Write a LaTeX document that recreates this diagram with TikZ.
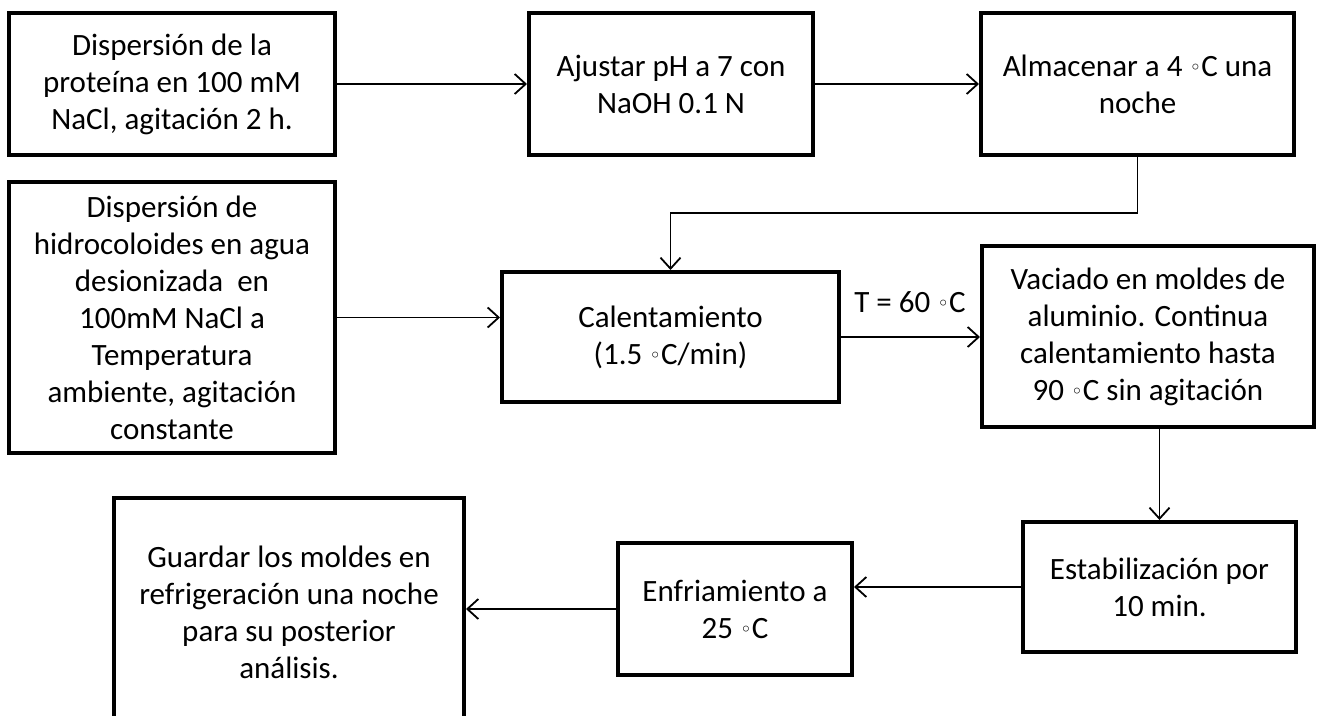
\documentclass[tikz,border=0pt]{standalone}
\usepackage{fontspec}
\setmainfont{Carlito}
\newfontfamily\dvsym{DejaVu Sans}
\newcommand{\degsym}{\raisebox{1.5pt}{\dvsym\fontsize{20}{20}\selectfont ◦}}
\usetikzlibrary{arrows.meta}
\tikzset{
  box/.style={draw=black, line width=4pt, fill=white, align=center, inner sep=0pt,
    font=\fontsize{31}{37}\selectfont},
  conn/.style={line width=1.8pt, -{Straight Barb[length=11pt,width=20pt]}},
  lbl/.style={font=\fontsize{31}{37}\selectfont, inner sep=0pt}
}
\begin{document}
\begin{tikzpicture}[x=1pt,y=-1pt]
\clip (0,0) rectangle (1324,715);
\fill[white] (0,0) rectangle (1324,715);
\node[box, minimum width=326pt, minimum height=142pt] (b1) at (172,84)
  {Dispersión de la\\proteína en 100 mM\\NaCl, agitación 2 h.};
\node[box, minimum width=284pt, minimum height=142pt] (b2) at (671,84)
  {Ajustar pH a 7 con\\NaOH 0.1 N};
\node[box, minimum width=313pt, minimum height=142pt] (b3) at (1137.5,84)
  {Almacenar a 4 \degsym C una\\noche};
\node[box, minimum width=326pt, minimum height=271pt] (b4) at (172,317.5)
  {Dispersión de\\hidrocoloides en agua\\desionizada \ en\\100mM NaCl a\\Temperatura\\ambiente, agitación\\constante};
\node[box, minimum width=337pt, minimum height=130pt] (b5) at (670.5,337)
  {Calentamiento\\(1.5 \degsym C/min)};
\node[box, minimum width=332pt, minimum height=181pt] (b6) at (1148,336.5)
  {Vaciado en moldes de\\aluminio. Continua\\calentamiento hasta\\90 \degsym C sin agitación};
\node[box, minimum width=273pt, minimum height=130pt] (b7) at (1159.5,587)
  {Estabilización por\\10 min.};
\node[box, minimum width=234pt, minimum height=132pt] (b8) at (735,609)
  {Enfriamiento a\\25 \degsym C};
\node[box, minimum width=350pt, minimum height=228pt] (b9) at (289,612)
  {Guardar los moldes en\\refrigeración una noche\\para su posterior\\análisis.};
\node[lbl] (t60) at (910,302) {T = 60 \degsym C};
\coordinate (k) at (670.5,213);
\draw[conn] (b1.east) -- (b2.west);
\draw[conn] (b2.east) -- (b3.west);
\draw[conn] (b3.south) |- (k) -- (b5.north);
\draw[conn] (b4.east) -- (b4.east -| b5.west);
\draw[conn] (b5.east) -- (b5.east -| b6.west);
\draw[conn] (b7.north |- b6.south) -- (b7.north);
\draw[conn] (b7.west) -- (b7.west -| b8.east);
\draw[conn] (b8.west) -- (b8.west -| b9.east);
\end{tikzpicture}
\end{document}
